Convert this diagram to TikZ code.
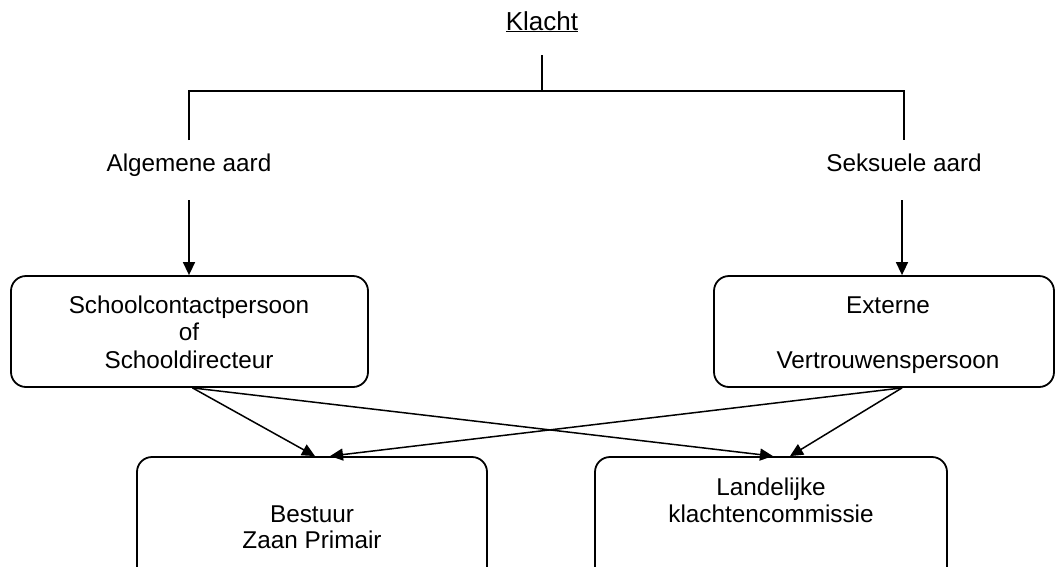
\documentclass[tikz,border=0pt]{standalone}
\usepackage{fontspec}
\setmainfont{Liberation Sans}
\usetikzlibrary{arrows.meta}
\begin{document}
\begin{tikzpicture}[x=1pt,y=-1pt,
  txt/.style={anchor=base,inner sep=0pt,font=\fontsize{24.3}{28}\selectfont},
  box/.style={draw,line width=1.8pt,rounded corners=15pt,inner sep=0pt},
  ln/.style={line width=1.6pt},
  arr/.style={line width=1.5pt,-{Triangle[length=13pt,width=12pt]}}]
\useasboundingbox (0,0) rectangle (1055,566);
\clip (0,0) rectangle (1055,566);
% boxes
\node[box,minimum width=357pt,minimum height=111pt] (lb) at (189.5,331.5) {};
\node[box,minimum width=340pt,minimum height=111pt] (rb) at (884,331.5) {};
\node[box,minimum width=350pt,minimum height=133pt] (bl) at (312,523.5) {};
\node[box,minimum width=352pt,minimum height=133pt] (br) at (771,523.5) {};
% texts
\node[txt,font=\fontsize{26}{30}\selectfont] (kl) at (542,30) {\underline{Klacht}};
\node[txt] (alg) at (189,171) {Algemene aard};
\node[txt] (sek) at (904,171) {Seksuele aard};
\node[txt] (l1) at (189,313) {Schoolcontactpersoon};
\node[txt] (l2) at (189,340.5) {of};
\node[txt] (l3) at (189,368) {Schooldirecteur};
\node[txt] (r1) at (888,313) {Externe};
\node[txt] (r2) at (888,368) {Vertrouwenspersoon};
\node[txt] (b1) at (312,522) {Bestuur};
\node[txt] (b2) at (312,548) {Zaan Primair};
\node[txt] (c1) at (771,495) {Landelijke};
\node[txt] (c2) at (771,522) {klachtencommissie};
% tree
\coordinate (t0) at (542,55);
\coordinate (t1) at (542,91);
\coordinate (hl) at (189,91);
\coordinate (hr) at (904,91);
\coordinate (dl) at (189,140);
\coordinate (dr) at (904,140);
\coordinate (al) at (189,200);
\coordinate (ar) at (902,200);
\draw[ln] (t0) -- (t1);
\draw[ln] (dl) -- (hl) -- (hr) -- (dr);
\draw[arr] (al) -- (al |- lb.north);
\draw[arr] (ar) -- (ar |- rb.north);
% cross arrows
\coordinate (ls) at ([xshift=3pt]lb.south);
\coordinate (rs) at ([xshift=18pt]rb.south);
\draw[arr] (ls) -- ([xshift=3pt]bl.north);
\draw[arr] (ls) -- ([xshift=2pt]br.north);
\draw[arr] (rs) -- ([xshift=18pt]bl.north);
\draw[arr] (rs) -- ([xshift=19pt]br.north);
\end{tikzpicture}
\end{document}
